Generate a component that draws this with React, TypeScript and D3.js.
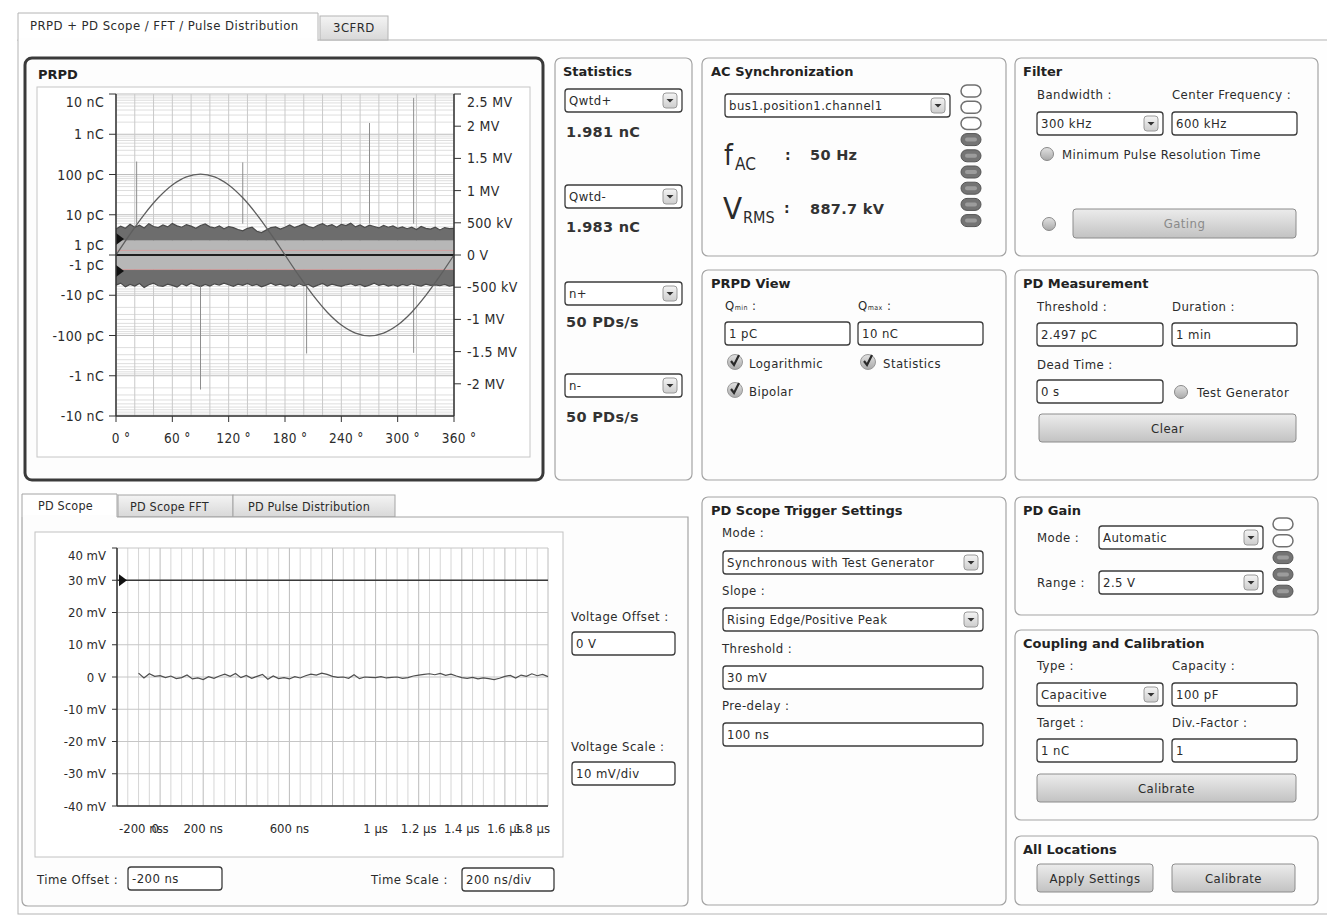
import * as React from "react";
import * as d3 from "d3";

const W = 1327;
const H = 920;
const FONT = "'DejaVu Sans Condensed', 'Liberation Sans Narrow', 'Liberation Sans', sans-serif";
const BOLD = "'DejaVu Sans', 'Liberation Sans', sans-serif";

// ---- PRPD data ----
const chargeTicks = [10000, 1000, 100, 10, -10, -100, -1000, -10000]; // pC
const chargeTickLabels = ["10 nC", "1 nC", "100 pC", "10 pC", "-10 pC", "-100 pC", "-1 nC", "-10 nC"];
const voltageTicks = [2500, 2000, 1500, 1000, 500, 0, -500, -1000, -1500, -2000]; // kV
const voltageTickLabels = ["2.5 MV", "2 MV", "1.5 MV", "1 MV", "500 kV", "0 V", "-500 kV", "-1 MV", "-1.5 MV", "-2 MV"];
const phaseTicks = [0, 60, 120, 180, 240, 300, 360];

const sinePhase = [0, 15, 30, 45, 60, 75, 90, 105, 120, 135, 150, 165, 180, 195, 210, 225, 240, 255, 270, 285, 300, 315, 330, 345, 360];
const sineVoltage = [0, 325, 628, 888, 1087, 1212, 1255, 1212, 1087, 888, 628, 325, 0, -325, -628, -888, -1087, -1212, -1255, -1212, -1087, -888, -628, -325, 0]; // kV

// upper edge of the positive noise cloud, every 5 deg (pC)
const posNoiseTop = [
  4.4, 5.2, 4.6, 5.8, 4.9, 5.5, 4.7, 6.0, 5.1, 4.8,
  5.6, 5.0, 6.1, 5.3, 4.9, 5.7, 5.2, 4.6, 5.4, 5.9,
  5.0, 4.7, 5.3, 4.5, 5.1, 4.8, 4.3, 4.0, 4.6, 4.9,
  3.9, 3.6, 4.2, 4.8, 5.0, 4.4, 4.9, 5.6, 4.8, 5.3,
  5.9, 5.1, 4.7, 5.5, 6.0, 5.2, 5.7, 4.9, 5.8, 5.4,
  6.2, 5.0, 5.6, 4.8, 5.5, 5.1, 4.7, 5.4, 4.9, 5.3,
  4.6, 5.0, 4.5, 4.9, 4.3, 5.1, 4.6, 4.4, 4.9, 4.2,
  4.8, 4.5, 4.6,
];
// lower edge (magnitude) of the negative noise cloud, every 5 deg (pC)
const negNoiseBottom = [
  5.6, 5.0, 6.2, 5.4, 5.9, 5.1, 6.4, 5.5, 5.0, 5.8,
  6.0, 5.3, 5.7, 6.3, 5.2, 5.8, 5.0, 5.6, 6.1, 5.4,
  5.9, 5.2, 5.6, 5.0, 5.5, 6.0, 5.3, 5.7, 5.1, 5.8,
  5.4, 6.2, 5.6, 5.0, 5.7, 5.3, 5.9, 5.5, 6.1, 5.2,
  5.8, 5.4, 6.3, 5.6, 5.1, 5.9, 5.3, 5.7, 6.0, 5.5,
  5.2, 5.8, 5.4, 6.1, 5.6, 5.0, 5.7, 5.3, 5.9, 5.5,
  6.0, 5.4, 5.8, 5.2, 5.6, 5.9, 5.3, 5.7, 5.5, 5.8,
  5.4, 5.9, 5.6,
];
const darkBandInner = 2.3; // pC
const thresholdPC = 2.497;
const statLinesPC = [1.3, -2.3];

const pulsePhase = [22, 90, 135, 203, 270, 317, 317];
const pulseCharge = [210, -2200, 200, -280, 1900, 8000, -270]; // pC

// ---- PD scope data ----
const timeTicks = [-200, 0, 200, 600, 1000, 1200, 1400, 1600, 1800]; // ns
const timeTickLabels = ["-200 ns", "0 s", "200 ns", "600 ns", "1 µs", "1.2 µs", "1.4 µs", "1.6 µs", "1.8 µs"];
const mvTicks = [40, 30, 20, 10, 0, -10, -20, -30, -40];
const mvTickLabels = ["40 mV", "30 mV", "20 mV", "10 mV", "0 V", "-10 mV", "-20 mV", "-30 mV", "-40 mV"];
const triggerMv = 30;
const traceStart = -100; // ns
const traceStep = 25; // ns
const scopeTrace = [
  1.2, -0.3, 1.0, 0.2, 0.4, -0.2, 0.3, -0.5, -0.2, 0.6,
  -0.6, -0.3, -0.8, 0.1, -0.4, 0.3, 0.9, 0.2, 1.1, -0.2,
  0.5, -0.4, 0.2, 0.8, -0.7, 0.3, -0.5, -0.2, -0.6, 0.1,
  -0.3, 0.4, 0.9, 0.6, 1.2, 0.8, 0.2, -0.1, 0.0, -0.4,
  0.7, -0.5, 0.0, -0.1, -0.2, 0.1, -0.3, -0.1, 0.0, -0.4,
  -0.2, 0.3, 0.6, 0.8, 1.0, 0.7, 1.1, 0.5, 0.9, 0.3,
  -0.2, -0.4, -0.1, -0.6, -0.3, -0.5, -0.8, -0.4, 0.2, 0.5,
  -0.3, 0.6, 0.2, 1.0, 0.4, 0.8, 0.1,
]; // mV

const acLeds = [false, false, false, true, true, true, true, true, true];
const gainLeds = [false, false, true, true, true];

const Txt = ({ x, y, s = 13, a = "start", w = "normal", f = FONT, c = "#2b2b2b", ls = 0.45, children }: any) => (
  <text x={x} y={y} fontSize={s} textAnchor={a} fontWeight={w} fontFamily={f} fill={c} letterSpacing={ls}>
    {children}
  </text>
);

const Title = ({ x, y, children }: any) => (
  <Txt x={x} y={y} s={13} w="bold" f={BOLD} c="#222" ls={0}>
    {children}
  </Txt>
);

const Value = ({ x, y, children }: any) => (
  <Txt x={x} y={y} s={14.5} w="bold" f={BOLD} c="#333" ls={0.3}>
    {children}
  </Txt>
);

const Panel = ({ x, y, w, h }: any) => (
  <rect x={x} y={y} width={w} height={h} rx={6} fill="#fdfdfd" stroke="#a4a4a4" strokeWidth={1.2} />
);

const Dropdown = ({ x, y, w, h = 23, text }: any) => (
  <g>
    <rect x={x} y={y} width={w} height={h} rx={3} fill="#fff" stroke="#3c3c3c" strokeWidth={1.3} />
    <rect x={x + w - 19} y={y + 4} width={14} height={h - 8} rx={3} fill="url(#ddbtn)" stroke="#9a9a9a" />
    <path d={`M${x + w - 15.5},${y + h / 2 - 1.5} l3.5,3.5 l3.5,-3.5 z`} fill="#333" />
    <Txt x={x + 4} y={y + h / 2 + 4.5}>{text}</Txt>
  </g>
);

const Input = ({ x, y, w, h = 23, text }: any) => (
  <g>
    <rect x={x} y={y} width={w} height={h} rx={3} fill="#fff" stroke="#3c3c3c" strokeWidth={1.3} />
    <Txt x={x + 4} y={y + h / 2 + 4.5}>{text}</Txt>
  </g>
);

const Button = ({ x, y, w, h = 28, text, dim = false }: any) => (
  <g>
    <rect x={x} y={y} width={w} height={h} rx={3} fill="url(#btnGrad)" stroke="#8c8c8c" />
    <Txt x={x + w / 2} y={y + h / 2 + 4.5} a="middle" c={dim ? "#8a8a8a" : "#2b2b2b"}>
      {text}
    </Txt>
  </g>
);

const Radio = ({ cx, cy }: any) => <circle cx={cx} cy={cy} r={6.5} fill="url(#radioGrad)" stroke="#8a8a8a" />;

const Check = ({ cx, cy }: any) => (
  <g>
    <circle cx={cx} cy={cy} r={7.5} fill="url(#radioGrad)" stroke="#9a9a9a" />
    <path d={`M${cx - 4},${cy - 1} l3,4 l5,-10`} stroke="#2a2a2a" strokeWidth={2.2} fill="none" />
  </g>
);

const Led = ({ cx, cy, on }: any) =>
  on ? (
    <g>
      <rect x={cx - 10} y={cy - 6} width={20} height={12} rx={6} fill="#747474" stroke="#555" />
      <rect x={cx - 6} y={cy - 2} width={12} height={4} rx={2} fill="#9c9c9c" />
    </g>
  ) : (
    <rect x={cx - 10} y={cy - 6} width={20} height={12} rx={6} fill="#fff" stroke="#707070" strokeWidth={1.5} />
  );

const Prpd = () => {
  const left = 116;
  const right = 454;
  const top = 94;
  const bottom = 416;
  const cy = 255;
  const px = d3.scaleLinear().domain([0, 360]).range([left, right]);
  const qMag = d3.scaleLog().domain([1, 10000]).range([0, cy - top]);
  const qy = (q: number) => (q >= 0 ? cy - qMag(Math.max(q, 1)) : cy + qMag(Math.max(-q, 1)));
  const vy = d3.scaleLinear().domain([-2500, 2500]).range([bottom, top]);

  const minor = qMag.ticks().filter((t) => Math.log10(t) % 1 !== 0);
  const majors = [1, 10, 100, 1000, 10000];

  const posArea = d3
    .area<number>()
    .x((_, i) => px(i * 5))
    .y0(qy(darkBandInner))
    .y1((d) => qy(d));
  const negArea = d3
    .area<number>()
    .x((_, i) => px(i * 5))
    .y0(qy(-darkBandInner))
    .y1((d) => qy(-d));
  const posEdge = d3
    .line<number>()
    .x((_, i) => px(i * 5))
    .y((d) => qy(d));
  const negEdge = d3
    .line<number>()
    .x((_, i) => px(i * 5))
    .y((d) => qy(-d));
  const sine = d3
    .line<number>()
    .x((_, i) => px(sinePhase[i]))
    .y((d) => vy(d))
    .curve(d3.curveCatmullRom);

  return (
    <g>
      <rect x={25} y={58} width={518} height={422} rx={7} fill="#fdfdfd" stroke="#3a3a3a" strokeWidth={3} />
      <Title x={38} y={79}>PRPD</Title>
      <rect x={37} y={87} width={493} height={370} fill="#fff" stroke="#c6c6c6" />

      {minor.map((t) => (
        <g key={"mn" + t}>
          <line x1={left} x2={right} y1={qy(t)} y2={qy(t)} stroke="#dedede" />
          <line x1={left} x2={right} y1={qy(-t)} y2={qy(-t)} stroke="#dedede" />
        </g>
      ))}
      {majors.map((t) => (
        <g key={"mj" + t}>
          <line x1={left} x2={right} y1={qy(t)} y2={qy(t)} stroke="#bdbdbd" />
          <line x1={left} x2={right} y1={qy(-t)} y2={qy(-t)} stroke="#bdbdbd" />
        </g>
      ))}
      {px.ticks(12).map((t) => (
        <line key={"v" + t} x1={px(t)} x2={px(t)} y1={top} y2={bottom} stroke="#c9c9c9" />
      ))}

      <rect x={left} y={qy(darkBandInner)} width={right - left} height={qy(-darkBandInner) - qy(darkBandInner)} fill="#b7b7b7" />
      <path d={posArea(posNoiseTop) || ""} fill="#6d6d6d" />
      <path d={negArea(negNoiseBottom) || ""} fill="#6d6d6d" />
      <path d={posEdge(posNoiseTop) || ""} fill="none" stroke="#4a4a4a" strokeWidth={1.2} />
      <path d={negEdge(negNoiseBottom) || ""} fill="none" stroke="#4a4a4a" strokeWidth={1.2} />
      {statLinesPC.map((q) => (
        <line key={"s" + q} x1={left} x2={right} y1={qy(q)} y2={qy(q)} stroke="#d79a9a" strokeWidth={0.8} />
      ))}

      {pulsePhase.map((p, i) => (
        <line
          key={"p" + i}
          x1={px(p)}
          x2={px(p)}
          y1={qy(pulseCharge[i] > 0 ? 6 : -6)}
          y2={qy(pulseCharge[i])}
          stroke="#8e8e8e"
          strokeWidth={1}
        />
      ))}

      <line x1={left} x2={right} y1={cy} y2={cy} stroke="#1e1e1e" strokeWidth={2} />
      <path d={sine(sineVoltage) || ""} fill="none" stroke="#5e5e5e" strokeWidth={1.3} />

      {[thresholdPC, -thresholdPC].map((q) => (
        <path key={"tr" + q} d={`M${left},${qy(q) - 6} L${left + 8},${qy(q)} L${left},${qy(q) + 6} Z`} fill="#111" />
      ))}

      <line x1={left} x2={left} y1={top} y2={bottom} stroke="#333" strokeWidth={1.5} />
      <line x1={right} x2={right} y1={top} y2={bottom} stroke="#333" strokeWidth={1.5} />
      <line x1={left} x2={right} y1={bottom} y2={bottom} stroke="#333" strokeWidth={1.5} />

      {chargeTicks.map((q, i) => (
        <g key={"ct" + q}>
          <line x1={left - 7} x2={left} y1={qy(q)} y2={qy(q)} stroke="#333" />
          <Txt x={104} y={Math.max(qy(q), top + 8) + 5} s={14} a="end" ls={0.3}>
            {chargeTickLabels[i]}
          </Txt>
        </g>
      ))}
      <line x1={left - 7} x2={left} y1={cy} y2={cy} stroke="#333" />
      <Txt x={104} y={cy - 10 + 5} s={14} a="end" ls={0.3}>1 pC</Txt>
      <Txt x={104} y={cy + 10 + 5} s={14} a="end" ls={0.3}>-1 pC</Txt>

      {voltageTicks.map((v, i) => (
        <g key={"vt" + v}>
          <line x1={right} x2={right + 7} y1={vy(v)} y2={vy(v)} stroke="#333" />
          <Txt x={467} y={Math.max(vy(v), top + 8) + 5} s={14} ls={0.3}>
            {voltageTickLabels[i]}
          </Txt>
        </g>
      ))}

      {phaseTicks.map((p) => (
        <g key={"ph" + p}>
          <line x1={px(p)} x2={px(p)} y1={bottom} y2={bottom + 6} stroke="#333" />
          <Txt x={px(p) + 5} y={443} s={13.5} a="middle" ls={0.3}>{`${p} °`}</Txt>
        </g>
      ))}
    </g>
  );
};

const Scope = () => {
  const left = 117;
  const right = 548;
  const sx = d3.scaleLinear().domain([-200, 1800]).range([left, right]);
  const sy = d3.scaleLinear().domain([-40, 40]).range([806, 548]);
  const trace = d3
    .line<number>()
    .x((_, i) => sx(traceStart + i * traceStep))
    .y((d) => sy(d));
  const minorT = d3.range(-200, 1801, 50);
  return (
    <g>
      <path d="M22,517 L22,494 L117,494 L117,517" fill="#fff" stroke="#a4a4a4" />
      <rect x={118} y={495} width={115} height={22} fill="url(#tabGrad)" stroke="#a4a4a4" />
      <rect x={233} y={495} width={162} height={22} fill="url(#tabGrad)" stroke="#a4a4a4" />
      <path d="M117,517 L688,517 L688,900 Q688,906 682,906 L28,906 Q22,906 22,900 L22,517" fill="#fdfdfd" stroke="#a4a4a4" strokeWidth={1.2} />
      <rect x={23} y={515} width={93} height={4} fill="#fdfdfd" />
      <Txt x={38} y={510} s={12.5} ls={0.2}>PD Scope</Txt>
      <Txt x={130} y={511} s={12.5} ls={0.2}>PD Scope FFT</Txt>
      <Txt x={248} y={511} s={12.5} ls={0.2}>PD Pulse Distribution</Txt>

      <rect x={35} y={532} width={528} height={325} fill="#fff" stroke="#c2c2c2" />
      {minorT.map((t) => (
        <line key={"g" + t} x1={sx(t)} x2={sx(t)} y1={548} y2={806} stroke={t % 200 === 0 ? "#bcbcbc" : "#d6d6d6"} />
      ))}
      {mvTicks.map((v) => (
        <line key={"h" + v} x1={left} x2={right} y1={sy(v)} y2={sy(v)} stroke="#c6c6c6" />
      ))}
      <line x1={left} x2={right} y1={sy(triggerMv)} y2={sy(triggerMv)} stroke="#3a3a3a" strokeWidth={1.6} />
      <path d={`M${left + 2},${sy(triggerMv) - 6} L${left + 10},${sy(triggerMv)} L${left + 2},${sy(triggerMv) + 6} Z`} fill="#111" />
      <path d={trace(scopeTrace) || ""} fill="none" stroke="#4e4e4e" strokeWidth={1.2} />
      <line x1={left} x2={left} y1={548} y2={806} stroke="#333" strokeWidth={1.5} />
      <line x1={left} x2={right} y1={806} y2={806} stroke="#333" strokeWidth={1.5} />

      {mvTicks.map((v, i) => (
        <g key={"yl" + v}>
          <line x1={left - 5} x2={left} y1={sy(v)} y2={sy(v)} stroke="#333" />
          <Txt x={106} y={Math.max(sy(v), 555) + 4.5} s={13} a="end" ls={0}>
            {mvTickLabels[i]}
          </Txt>
        </g>
      ))}
      {timeTicks.map((t, i) => {
        const first = i === 0;
        const last = i === timeTicks.length - 1;
        return (
          <Txt
            key={"xl" + t}
            x={first ? left + 2 : last ? right + 2 : sx(t)}
            y={833}
            s={13}
            ls={0}
            a={first ? "start" : last ? "end" : "middle"}
          >
            {timeTickLabels[i]}
          </Txt>
        );
      })}

      <Txt x={571} y={621}>Voltage Offset :</Txt>
      <Input x={572} y={632} w={103} text="0 V" />
      <Txt x={571} y={751}>Voltage Scale :</Txt>
      <Input x={572} y={762} w={103} text="10 mV/div" />
      <Txt x={37} y={884}>Time Offset :</Txt>
      <Input x={128} y={867} w={94} text="-200 ns" />
      <Txt x={371} y={884}>Time Scale :</Txt>
      <Input x={462} y={868} w={92} text="200 ns/div" />
    </g>
  );
};

export default function App() {
  return (
    <svg
      width={W}
      height={H}
      viewBox={`0 0 ${W} ${H}`}
      style={{ position: "absolute", left: 0, top: 0, display: "block" }}
    >
      <defs>
        <linearGradient id="btnGrad" x1="0" y1="0" x2="0" y2="1">
          <stop offset="0" stopColor="#ececec" />
          <stop offset="1" stopColor="#c2c2c2" />
        </linearGradient>
        <linearGradient id="ddbtn" x1="0" y1="0" x2="0" y2="1">
          <stop offset="0" stopColor="#f4f4f4" />
          <stop offset="1" stopColor="#cdcdcd" />
        </linearGradient>
        <linearGradient id="radioGrad" x1="0" y1="0" x2="0" y2="1">
          <stop offset="0" stopColor="#e2e2e2" />
          <stop offset="1" stopColor="#a9a9a9" />
        </linearGradient>
        <linearGradient id="tabGrad" x1="0" y1="0" x2="0" y2="1">
          <stop offset="0" stopColor="#f4f4f4" />
          <stop offset="1" stopColor="#d8d8d8" />
        </linearGradient>
      </defs>
      <rect x={0} y={0} width={W} height={H} fill="#fff" />

      {/* main tabs */}
      <rect x={18} y={40} width={1320} height={874} fill="#fefefe" stroke="#b4b4b4" />
      <rect x={320} y={16} width={68} height={24} fill="url(#tabGrad)" stroke="#b4b4b4" />
      <path d="M18,41 L18,13 L318,13 L318,41" fill="#fff" stroke="#b4b4b4" />
      <rect x={19} y={38} width={298} height={4} fill="#fefefe" />
      <Txt x={30} y={30}>PRPD + PD Scope / FFT / Pulse Distribution</Txt>
      <Txt x={333} y={32}>3CFRD</Txt>

      <Prpd />

      {/* Statistics */}
      <Panel x={555} y={58} w={137} h={422} />
      <Title x={563} y={76}>Statistics</Title>
      <Dropdown x={565} y={89} w={117} text="Qwtd+" />
      <Value x={566} y={137}>1.981 nC</Value>
      <Dropdown x={565} y={185} w={117} text="Qwtd-" />
      <Value x={566} y={232}>1.983 nC</Value>
      <Dropdown x={565} y={282} w={117} text="n+" />
      <Value x={566} y={327}>50 PDs/s</Value>
      <Dropdown x={565} y={374} w={117} text="n-" />
      <Value x={566} y={422}>50 PDs/s</Value>

      {/* AC Synchronization */}
      <Panel x={702} y={58} w={304} h={198} />
      <Title x={711} y={76}>AC Synchronization</Title>
      <Dropdown x={725} y={94} w={225} text="bus1.position1.channel1" />
      {acLeds.map((on, i) => (
        <Led key={"ac" + i} cx={971} cy={91 + i * 16.2} on={on} />
      ))}
      <Txt x={724} y={165} s={28} ls={0}>f</Txt>
      <Txt x={735} y={170} s={17} ls={0}>AC</Txt>
      <Txt x={785} y={160} s={14} w="bold" f={BOLD}>:</Txt>
      <Value x={810} y={160}>50 Hz</Value>
      <Txt x={723} y={219} s={31} ls={0}>V</Txt>
      <Txt x={743} y={223} s={16} ls={0}>RMS</Txt>
      <Txt x={784} y={213} s={14} w="bold" f={BOLD}>:</Txt>
      <Value x={810} y={214}>887.7 kV</Value>

      {/* PRPD View */}
      <Panel x={702} y={270} w={304} h={210} />
      <Title x={711} y={288}>PRPD View</Title>
      <Txt x={725} y={310}>
        Q<tspan fontSize={7}>min</tspan> :
      </Txt>
      <Txt x={858} y={310}>
        Q<tspan fontSize={7}>max</tspan> :
      </Txt>
      <Input x={725} y={322} w={125} text="1 pC" />
      <Input x={858} y={322} w={125} text="10 nC" />
      <Check cx={735} cy={362} />
      <Txt x={749} y={368}>Logarithmic</Txt>
      <Check cx={868} cy={362} />
      <Txt x={883} y={368}>Statistics</Txt>
      <Check cx={735} cy={390} />
      <Txt x={749} y={396}>Bipolar</Txt>

      {/* Filter */}
      <Panel x={1015} y={58} w={303} h={198} />
      <Title x={1023} y={76}>Filter</Title>
      <Txt x={1037} y={99}>Bandwidth :</Txt>
      <Txt x={1172} y={99}>Center Frequency :</Txt>
      <Dropdown x={1037} y={112} w={126} text="300 kHz" />
      <Input x={1172} y={112} w={125} text="600 kHz" />
      <Radio cx={1047} cy={154} />
      <Txt x={1062} y={159}>Minimum Pulse Resolution Time</Txt>
      <Radio cx={1049} cy={224} />
      <Button x={1073} y={209} w={223} h={29} text="Gating" dim />

      {/* PD Measurement */}
      <Panel x={1015} y={270} w={303} h={210} />
      <Title x={1023} y={288}>PD Measurement</Title>
      <Txt x={1037} y={311}>Threshold :</Txt>
      <Txt x={1172} y={311}>Duration :</Txt>
      <Input x={1037} y={323} w={126} text="2.497 pC" />
      <Input x={1172} y={323} w={125} text="1 min" />
      <Txt x={1037} y={369}>Dead Time :</Txt>
      <Input x={1037} y={380} w={126} text="0 s" />
      <Radio cx={1181} cy={392} />
      <Txt x={1197} y={397}>Test Generator</Txt>
      <Button x={1039} y={414} w={257} h={28} text="Clear" />

      <Scope />

      {/* PD Scope Trigger Settings */}
      <Panel x={702} y={497} w={304} h={408} />
      <Title x={711} y={515}>PD Scope Trigger Settings</Title>
      <Txt x={722} y={537}>Mode :</Txt>
      <Dropdown x={723} y={551} w={260} text="Synchronous with Test Generator" />
      <Txt x={722} y={595}>Slope :</Txt>
      <Dropdown x={723} y={608} w={260} text="Rising Edge/Positive Peak" />
      <Txt x={722} y={653}>Threshold :</Txt>
      <Input x={723} y={666} w={260} text="30 mV" />
      <Txt x={722} y={710}>Pre-delay :</Txt>
      <Input x={723} y={723} w={260} text="100 ns" />

      {/* PD Gain */}
      <Panel x={1015} y={497} w={303} h={118} />
      <Title x={1023} y={515}>PD Gain</Title>
      <Txt x={1037} y={542}>Mode :</Txt>
      <Dropdown x={1099} y={526} w={164} text="Automatic" />
      <Txt x={1037} y={587}>Range :</Txt>
      <Dropdown x={1099} y={571} w={164} text="2.5 V" />
      {gainLeds.map((on, i) => (
        <Led key={"g" + i} cx={1283} cy={524 + i * 16.8} on={on} />
      ))}

      {/* Coupling and Calibration */}
      <Panel x={1015} y={630} w={303} h={190} />
      <Title x={1023} y={648}>Coupling and Calibration</Title>
      <Txt x={1037} y={670}>Type :</Txt>
      <Txt x={1172} y={670}>Capacity :</Txt>
      <Dropdown x={1037} y={683} w={126} text="Capacitive" />
      <Input x={1172} y={683} w={125} text="100 pF" />
      <Txt x={1037} y={727}>Target :</Txt>
      <Txt x={1172} y={727}>Div.-Factor :</Txt>
      <Input x={1037} y={739} w={126} text="1 nC" />
      <Input x={1172} y={739} w={125} text="1" />
      <Button x={1037} y={774} w={259} h={28} text="Calibrate" />

      {/* All Locations */}
      <Panel x={1015} y={836} w={303} h={69} />
      <Title x={1023} y={854}>All Locations</Title>
      <Button x={1037} y={864} w={116} h={28} text="Apply Settings" />
      <Button x={1172} y={864} w={123} h={28} text="Calibrate" />
    </svg>
  );
}
